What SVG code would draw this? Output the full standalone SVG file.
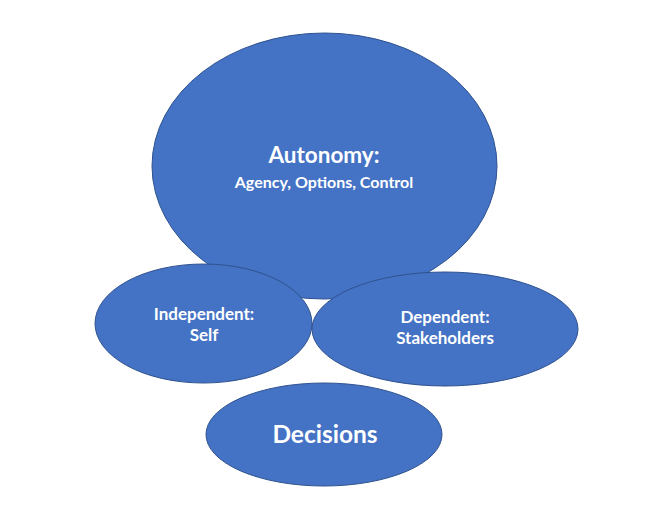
<svg xmlns="http://www.w3.org/2000/svg" width="657" height="506" viewBox="0 0 657 506">
<style>
.n{fill:#4472C4;stroke:#2F528F;stroke-width:1}
.t{fill:#fff;font-family:Lato,"Open Sans",sans-serif;font-weight:bold;text-anchor:middle}
</style>
<rect width="657" height="506" fill="#fff"/>
<g id="connectors"></g>
<g id="autonomy">
<ellipse class="n" cx="324.5" cy="166" rx="172.5" ry="133"/>
<text class="t" x="324" y="163" font-size="22.5">Autonomy:</text>
<text class="t" x="324" y="188" font-size="16">Agency, Options, Control</text>
</g>
<g id="independent">
<ellipse class="n" cx="203.5" cy="323.5" rx="108.5" ry="59.5"/>
<text class="t" x="204" y="320" font-size="17">Independent:</text>
<text class="t" x="204" y="341" font-size="17">Self</text>
</g>
<g id="dependent">
<ellipse class="n" cx="445" cy="329" rx="133" ry="57"/>
<text class="t" x="445" y="323" font-size="17">Dependent:</text>
<text class="t" x="445" y="344" font-size="17">Stakeholders</text>
</g>
<g id="decisions">
<ellipse class="n" cx="324" cy="434.5" rx="118" ry="51.5"/>
<text class="t" x="325" y="443" font-size="24.5">Decisions</text>
</g>
</svg>
